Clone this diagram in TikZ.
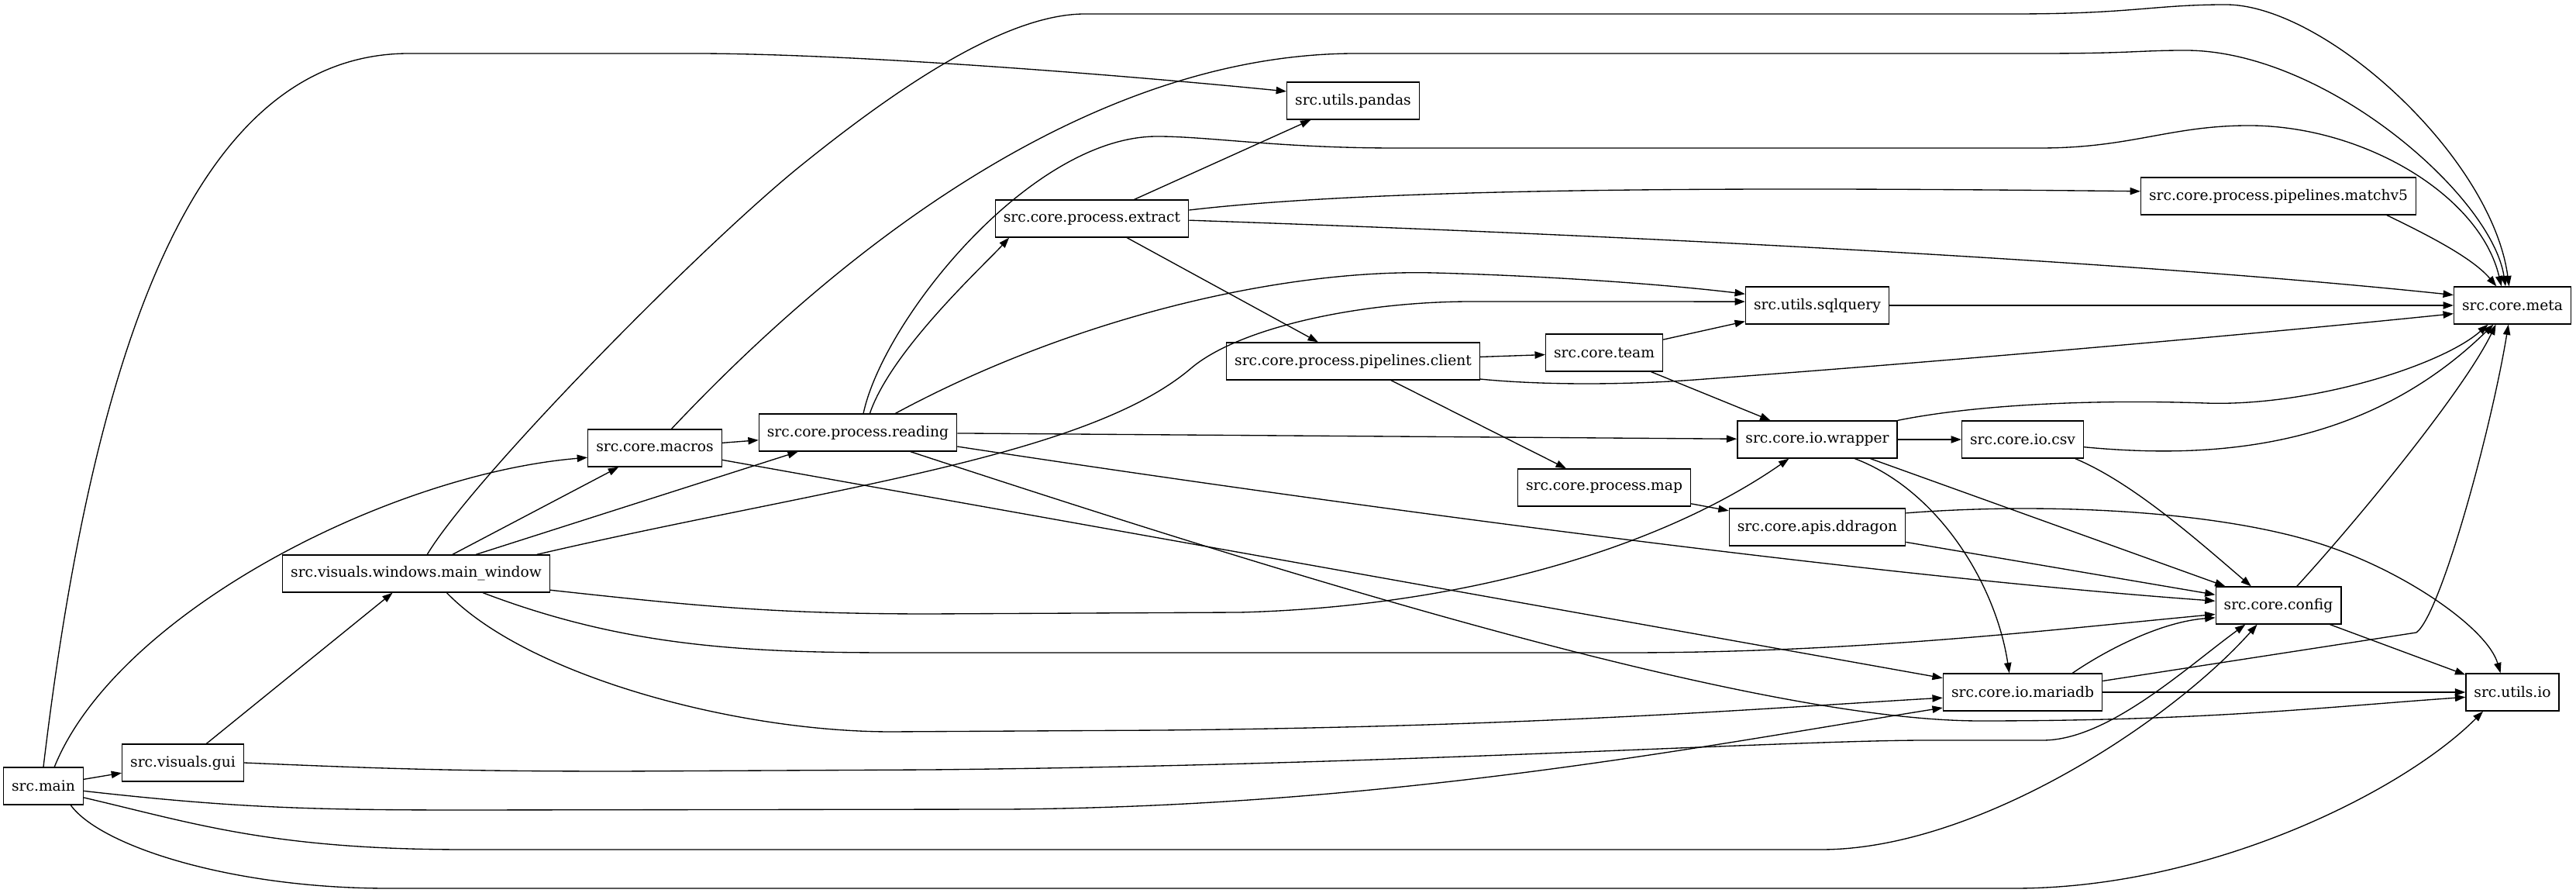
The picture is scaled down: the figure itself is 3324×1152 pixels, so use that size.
\documentclass[tikz,border=0pt]{standalone}
\usepackage{fontspec}
\setmainfont{DejaVu Serif}
\usetikzlibrary{arrows.meta}

\begin{document}
\begin{tikzpicture}[x=0.75pt, y=0.75pt,
    modulo/.style={draw, line width=1pt, rectangle, minimum height=36pt, inner xsep=7.9pt, inner ysep=0pt, font=\fontsize{14pt}{16pt}\selectfont},
    dep/.style={line width=1pt, -{Triangle[length=10pt,width=7pt]}}]

    \useasboundingbox (0,0) rectangle (3324,1152);

    % Modulos
    \node[modulo] (main) at (56,138) {src.main};
    \node[modulo] (gui) at (236,168) {src.visuals.gui};
    \node[modulo] (mainwin) at (537,412) {src.visuals.windows.main\_window};
    \node[modulo] (macros) at (845,574) {src.core.macros};
    \node[modulo] (reading) at (1107,594) {src.core.process.reading};
    \node[modulo] (extract) at (1409,870) {src.core.process.extract};
    \node[modulo] (pandas) at (1746,1022) {src.utils.pandas};
    \node[modulo] (client) at (1746,686) {src.core.process.pipelines.client};
    \node[modulo] (team) at (2070,697) {src.core.team};
    \node[modulo] (map) at (2070,523) {src.core.process.map};
    \node[modulo] (sqlquery) at (2345,758) {src.utils.sqlquery};
    \node[modulo] (wrapper) at (2345,585) {src.core.io.wrapper};
    \node[modulo] (ddragon) at (2345,472) {src.core.apis.ddragon};
    \node[modulo] (csv) at (2610,585) {src.core.io.csv};
    \node[modulo] (mariadb) at (2610,259) {src.core.io.mariadb};
    \node[modulo] (matchv5) at (2940,899) {src.core.process.pipelines.matchv5};
    \node[modulo] (config) at (2940,371) {src.core.config};
    \node[modulo] (meta) at (3242,758) {src.core.meta};
    \node[modulo] (utilsio) at (3242,259) {src.utils.io};

    % Desde src.main
    \draw[dep] (main.north) .. controls (120,700) and (250,1083) .. (528,1083) -- (895,1083) .. controls (1100,1083) and (1450,1055) .. (pandas.172);
    \draw[dep] (main.60) .. controls (150,360) and (500,540) .. (macros.188);
    \draw[dep] (main) -- (gui);
    \draw[dep] (main.353) .. controls (300,110) and (400,107) .. (600,107) -- (1300,108) .. controls (1800,112) and (2200,190) .. (mariadb.191);
    \draw[dep] (main.344) .. controls (250,90) and (350,56) .. (600,56) -- (2350,56) .. controls (2550,56) and (2800,220) .. (config.222);
    \draw[dep] (main.325) .. controls (130,60) and (300,6) .. (500,6) -- (2600,6) .. controls (2850,6) and (3100,130) .. (utilsio.213);

    % Interfaz
    \draw[dep] (gui) -- (mainwin);
    \draw[dep] (gui.east) .. controls (500,160) and (600,157) .. (800,157) -- (1200,159) .. controls (1800,165) and (2300,197) .. (2487,197) -- (2636,197) .. controls (2720,197) and (2820,290) .. (config.210);
    \draw[dep] (mainwin.60) .. controls (611,536) and (903,833) .. (1033,938) .. controls (1163,1043) and (1300,1134) .. (1400,1134) -- (2600,1134) .. controls (2750,1134) and (2780,1146) .. (2872,1146) .. controls (3000,1146) and (3215,950) .. (meta.100);
    \draw[dep] (mainwin) -- (macros);
    \draw[dep] (mainwin) -- (reading);
    \draw[dep] (mainwin.9) .. controls (1050,520) and (1400,560) .. (1537,677) .. controls (1597,728) and (1750,763) .. (1900,763) -- (sqlquery.177);
    \draw[dep] (mainwin.-7) .. controls (900,370) and (1000,360) .. (1200,360) -- (1600,362) .. controls (1900,370) and (2150,450) .. (wrapper.214);
    \draw[dep] (mainwin.-16) .. controls (800,320) and (950,310) .. (1150,310) -- (2100,310) .. controls (2400,310) and (2650,340) .. (config.188);
    \draw[dep] (mainwin.-32) .. controls (680,280) and (950,208) .. (1150,208) -- (1500,210) .. controls (2000,215) and (2300,240) .. (mariadb.184);

    % Macros y lectura
    \draw[dep] (macros.49) .. controls (1000,740) and (1350,1083) .. (1750,1083) -- (2633,1083) .. controls (2750,1083) and (2760,1087) .. (2820,1087) .. controls (3000,1087) and (3215,900) .. (meta.110);
    \draw[dep] (macros) -- (reading);
    \draw[dep] (macros) -- (mariadb);
    \draw[dep] (reading.74) .. controls (1140,740) and (1330,976) .. (1493,976) .. controls (1560,976) and (1650,961) .. (1800,961) -- (2633,961) .. controls (2750,961) and (2800,990) .. (2902,990) .. controls (3050,990) and (3200,900) .. (meta.120);
    \draw[dep] (reading.58) .. controls (1150,700) and (1270,810) .. (extract.193);
    \draw[dep] (reading.27) .. controls (1380,740) and (1650,805) .. (1850,800) .. controls (2000,796) and (2150,785) .. (sqlquery.171);
    \draw[dep] (reading) -- (wrapper);
    \draw[dep] (reading.-8) .. controls (1700,505) and (2400,410) .. (config.176);
    \draw[dep] (reading.-20) .. controls (1600,430) and (2250,222) .. (2555,222) .. controls (2850,222) and (3000,240) .. (utilsio.186);

    % Procesos
    \draw[dep] (extract) -- (pandas);
    \draw[dep] (extract.5) .. controls (1800,912) and (2300,910) .. (matchv5.178);
    \draw[dep] (extract.-1) .. controls (2200,845) and (2800,810) .. (meta.170);
    \draw[dep] (extract) -- (client);
    \draw[dep] (client) -- (team);
    \draw[dep] (client.-8) .. controls (1990,655) and (2100,655) .. (2200,663) .. controls (2500,685) and (2900,720) .. (meta.188);
    \draw[dep] (client) -- (map);
    \draw[dep] (team) -- (sqlquery);
    \draw[dep] (team) -- (wrapper);
    \draw[dep] (map) -- (ddragon);

    % Entrada y salida
    \draw[dep] (sqlquery) -- (meta);
    \draw[dep] (wrapper.north east) .. controls (2550,630) and (2700,637) .. (2845,632) .. controls (2980,627) and (3150,680) .. (meta.218);
    \draw[dep] (wrapper) -- (csv);
    \draw[dep] (wrapper) -- (config);
    \draw[dep] (wrapper.-27) .. controls (2500,520) and (2575,400) .. (mariadb.125);
    \draw[dep] (csv.-7) .. controls (2850,560) and (3050,570) .. (meta.225);
    \draw[dep] (csv.-20) .. controls (2750,530) and (2830,460) .. (config.145);
    \draw[dep] (ddragon) -- (config);
    \draw[dep] (ddragon.9) .. controls (2650,505) and (2880,492) .. (3010,445) .. controls (3110,410) and (3210,340) .. (utilsio.122);
    \draw[dep] (matchv5.-10) .. controls (3130,850) and (3190,820) .. (meta.130);
    \draw[dep] (config.46) .. controls (3050,490) and (3180,650) .. (meta.229);
    \draw[dep] (config) -- (utilsio);
    \draw[dep] (mariadb.21) .. controls (2720,315) and (2790,350) .. (config.191);
    \draw[dep] (mariadb.8) -- (3118,336) .. controls (3150,360) and (3215,600) .. (meta.258);
    \draw[dep] (mariadb) -- (utilsio);

\end{tikzpicture}
\end{document}
